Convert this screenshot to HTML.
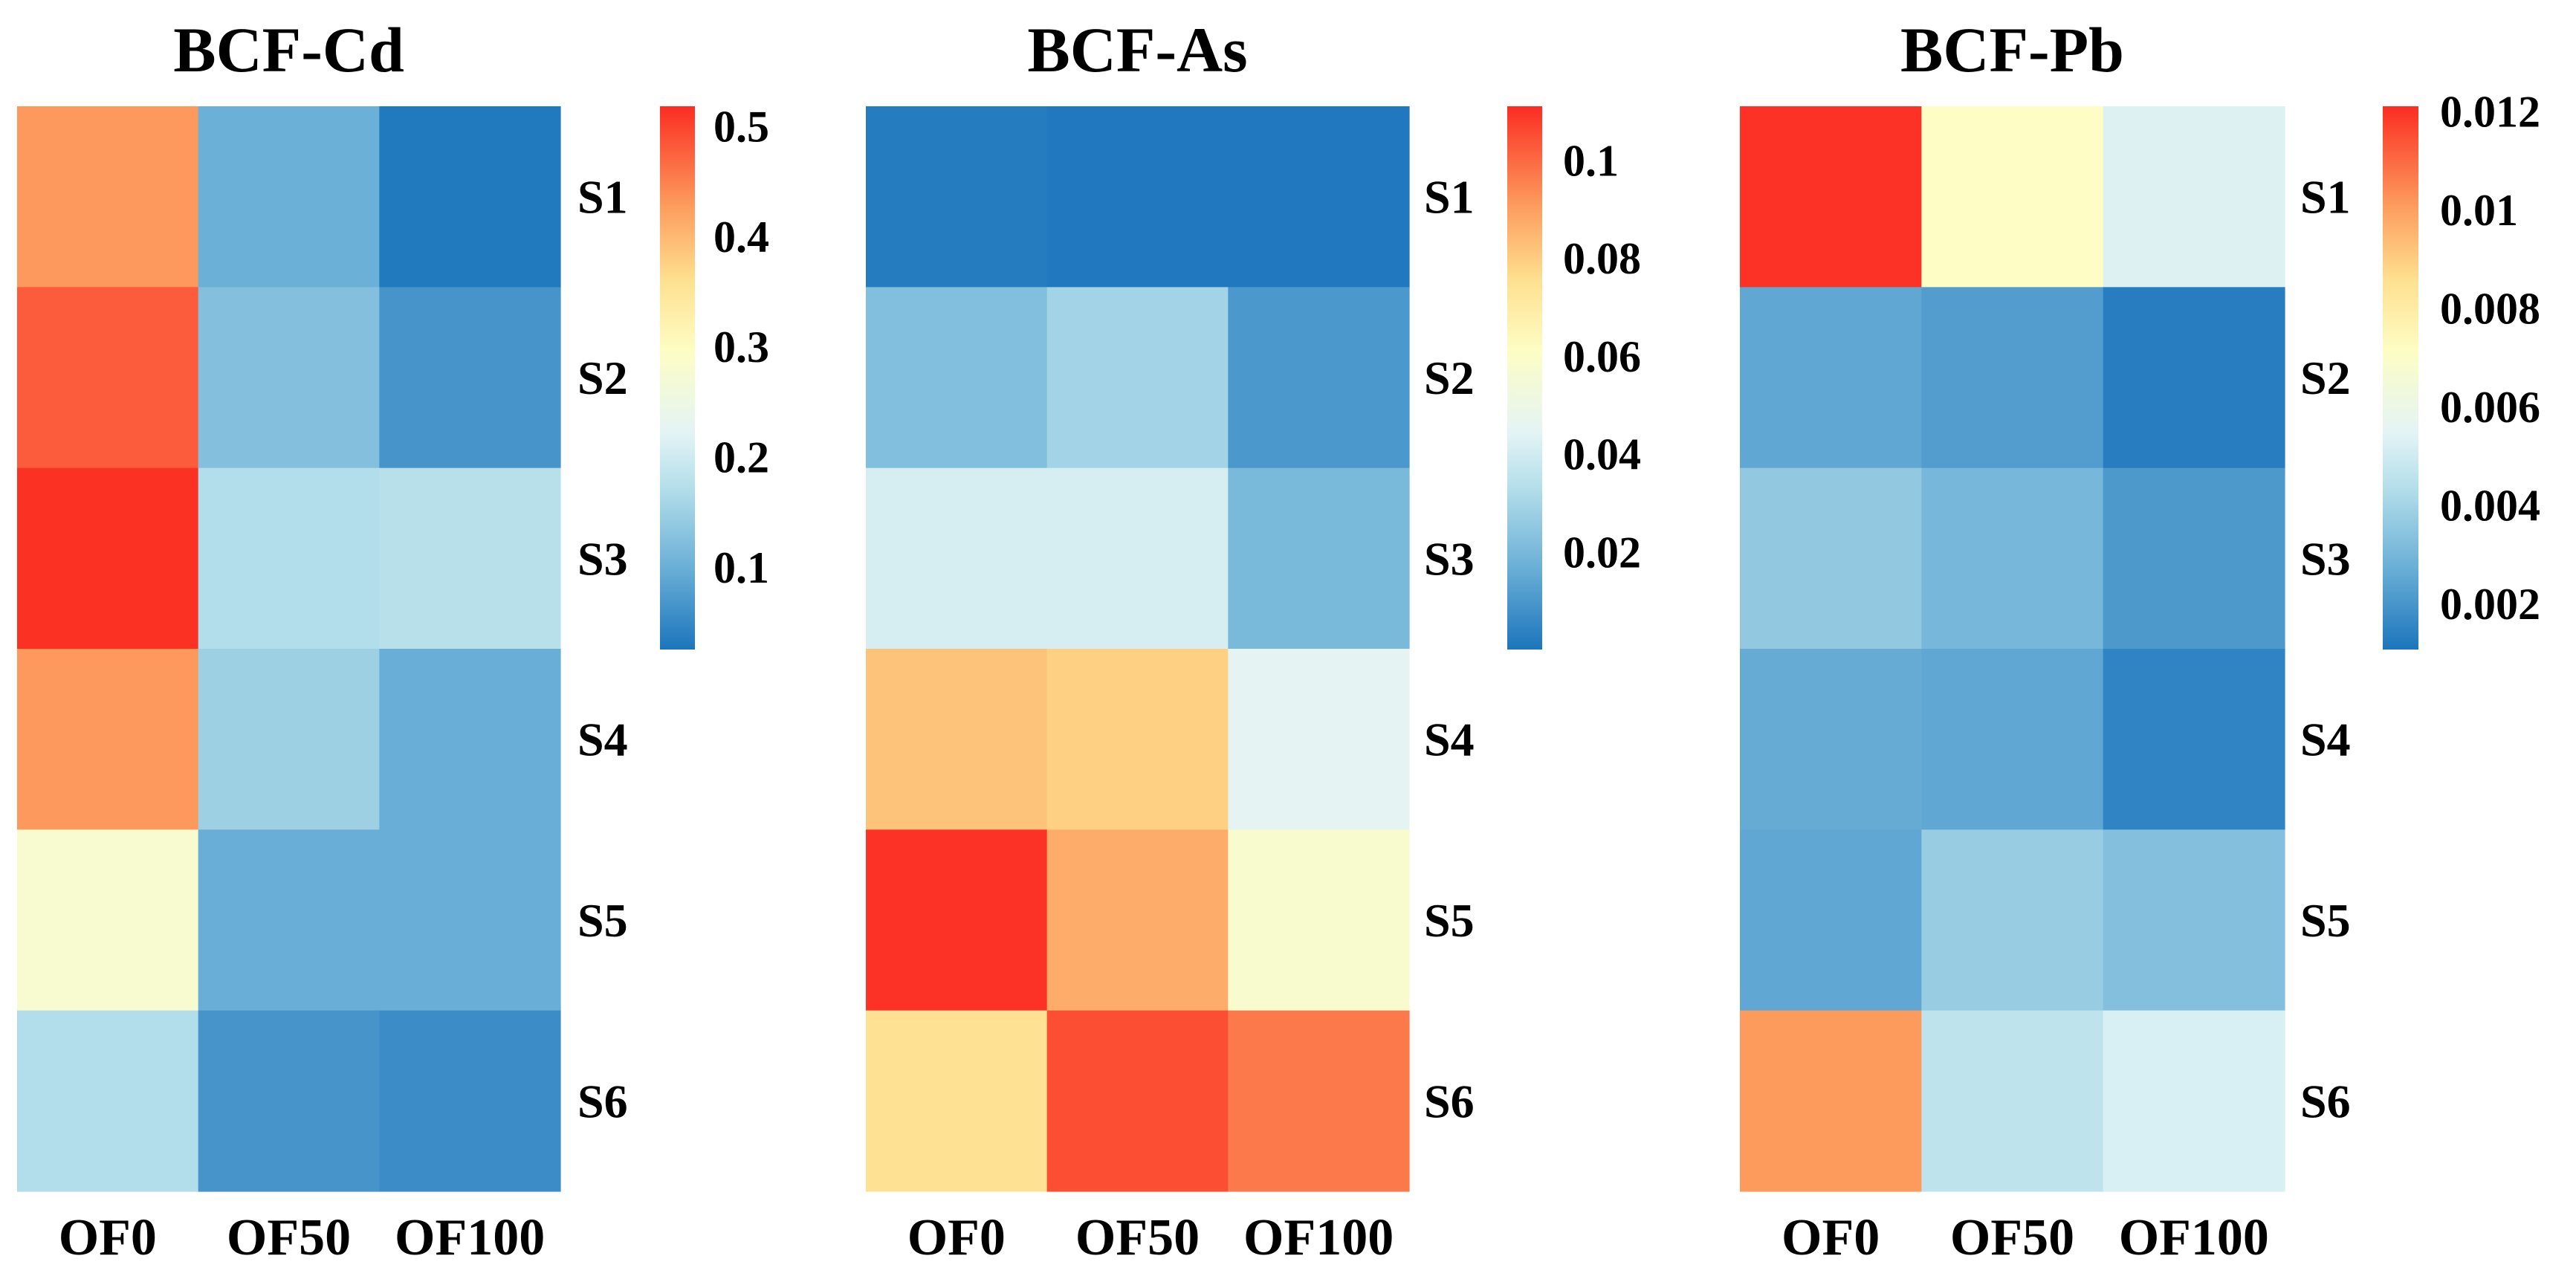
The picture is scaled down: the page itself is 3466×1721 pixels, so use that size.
<!DOCTYPE html>
<html><head><meta charset="utf-8"><style>
html,body{margin:0;padding:0;background:#fff;}
svg{display:block;}
text{font-family:"Liberation Serif",serif;font-weight:bold;fill:#000;}
</style></head><body>
<svg id="fig" width="3466" height="1721" viewBox="0 0 3466 1721" xmlns="http://www.w3.org/2000/svg">
<defs>
<linearGradient id="cbar" x1="0" y1="1" x2="0" y2="0">
<stop offset="0" stop-color="#1c75bc"/><stop offset="0.15" stop-color="#6aafd6"/><stop offset="0.3" stop-color="#b5dfeb"/><stop offset="0.4" stop-color="#e4f4f5"/><stop offset="0.55" stop-color="#fdfdc4"/><stop offset="0.68" stop-color="#fee090"/><stop offset="0.82" stop-color="#fd9a5c"/><stop offset="1" stop-color="#fb2d22"/>
</linearGradient>
</defs>
</svg>
<script>
const columns = ["OF0","OF50","OF100"];
const rows = ["S1","S2","S3","S4","S5","S6"];
const cdValues = [[0.43,0.1,0.03],[0.48,0.125,0.065],[0.515,0.17,0.175],[0.43,0.15,0.098],[0.28,0.098,0.098],[0.17,0.065,0.055]];
const asValues = [[0.002,0.001,0.001],[0.022,0.029,0.01],[0.041,0.041,0.02],[0.082,0.079,0.045],[0.11,0.087,0.058],[0.075,0.105,0.097]];
const pbValues = [[0.012,0.0071,0.0053],[0.0025,0.0022,0.0013],[0.0036,0.003,0.0021],[0.0026,0.0025,0.0015],[0.0025,0.0037,0.0033],[0.0101,0.0046,0.0052]];
const cdTicks = [0.1,0.2,0.3,0.4,0.5];
const asTicks = [0.02,0.04,0.06,0.08,0.1];
const pbTicks = [0.002,0.004,0.006,0.008,0.01,0.012];
const cdRange = [0.025,0.518];
const asRange = [0.0,0.111];
const pbRange = [0.00106,0.0121];

const stops=[[0,[28,117,188]],[0.15,[106,175,214]],[0.3,[181,223,235]],[0.4,[228,244,245]],[0.55,[253,253,196]],[0.68,[254,224,144]],[0.82,[253,154,92]],[1,[251,45,34]]];
function colorAt(t){t=Math.max(0,Math.min(1,t));for(let i=1;i<stops.length;i++){if(t<=stops[i][0]){const a=stops[i-1],b=stops[i];const f=(t-a[0])/(b[0]-a[0]);const c=a[1].map((v,k)=>Math.round(v+(b[1][k]-v)*f));return `rgb(${c[0]},${c[1]},${c[2]})`;}}return 'rgb(251,45,34)';}
const NS="http://www.w3.org/2000/svg";const svg=document.getElementById('fig');
function mk(tag,attrs,parent){const e=document.createElementNS(NS,tag);for(const k in attrs)e.setAttribute(k,attrs[k]);(parent||svg).appendChild(e);return e;}
const yTop=143,yBottom=1603,cbBottom=874;
const panels=[
 {title:"BCF-Cd",key:"cd",vals:cdValues,ticks:cdTicks,range:cdRange,x0:23,x1:754,lab:777,cb0:888,cb1:935,tx:960},
 {title:"BCF-As",key:"as",vals:asValues,ticks:asTicks,range:asRange,x0:1165,x1:1896,lab:1916,cb0:2028,cb1:2075,tx:2103},
 {title:"BCF-Pb",key:"pb",vals:pbValues,ticks:pbTicks,range:pbRange,x0:2341,x1:3074,lab:3095,cb0:3206,cb1:3254,tx:3283}
];
panels.forEach(p=>{
 const g=mk('g',{});
 
 
 const cw=(p.x1-p.x0)/columns.length, ch=(yBottom-yTop)/rows.length;
 const xs=c=>p.x0+c*cw, ys=r=>yTop+r*ch;
 const norm=v=>(v-p.range[0])/(p.range[1]-p.range[0]);
 const cby=v=>cbBottom-norm(v)*(cbBottom-yTop);
 const t=mk('text',{x:(p.x0+p.x1)/2,y:96,'font-size':86,'text-anchor':'middle'},g);t.textContent=p.title;
 
 
 p.vals.forEach((row,r)=>row.forEach((v,c)=>{
  const rc=mk('rect',{x:xs(c),y:ys(r),width:cw+0.6,height:ch+0.6,fill:colorAt(norm(v))},g);
  
  
 }));
 rows.forEach((s,r)=>{const e=mk('text',{x:p.lab,y:ys(r)+ch/2+22,'font-size':64},g);e.textContent=s;
  
  });
 columns.forEach((s,c)=>{const e=mk('text',{x:xs(c)+cw/2,y:1688,'font-size':70,'text-anchor':'middle'},g);e.textContent=s;
  
  });
 const cb=mk('rect',{x:p.cb0,y:yTop,width:p.cb1-p.cb0,height:cbBottom-yTop,fill:'url(#cbar)'},g);
 
 
 p.ticks.forEach(v=>{const e=mk('text',{x:p.tx,y:cby(v)+21,'font-size':60},g);e.textContent=String(v);
  
  });
});
</script>
</body></html>
